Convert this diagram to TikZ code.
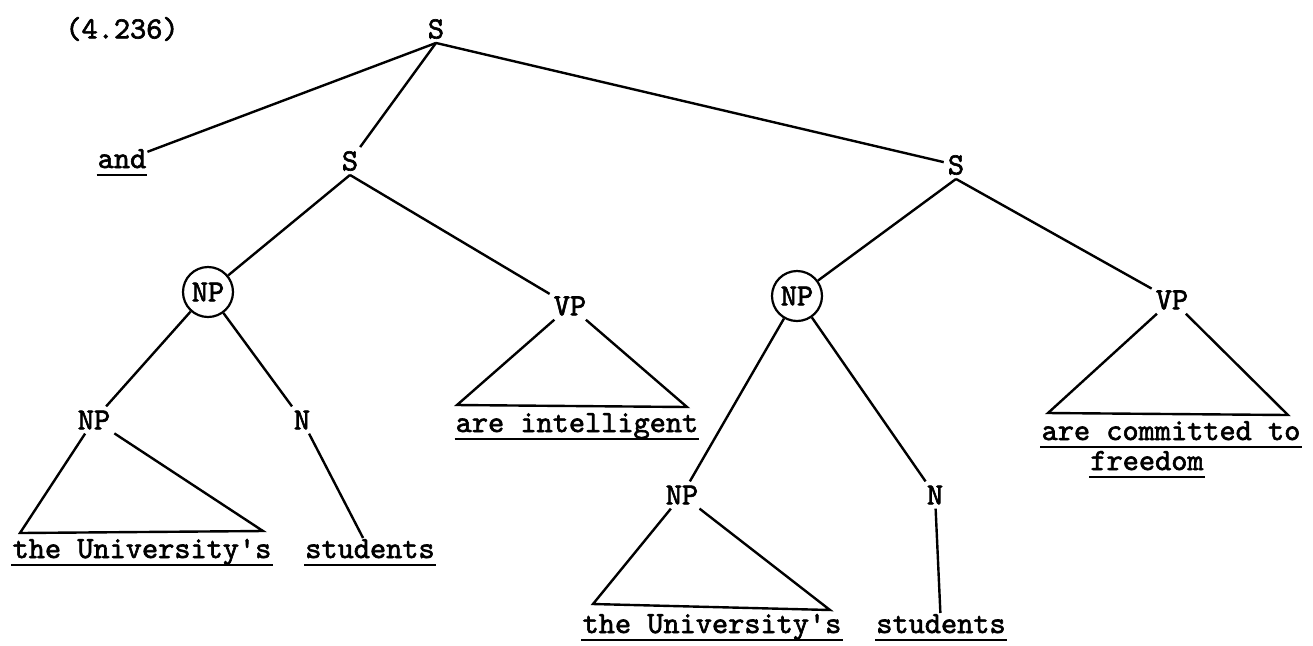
\documentclass[tikz,border=0pt]{standalone}
\usepackage{fontspec}
\newfontfamily\typew{lmmono10-regular.otf}[FakeBold=2]
\begin{document}
\begin{tikzpicture}[x=0.5pt,y=-0.5pt,line width=1.2pt,
  every node/.style={font=\fontsize{15.4}{17}\typew},
  cat/.style={inner sep=1.5pt},
  circ/.style={circle,draw,line width=1.1pt,inner sep=0pt,minimum size=25pt},
  word/.style={inner sep=0pt,anchor=base,text depth=2.8pt}]
\useasboundingbox (0,0) rectangle (1313,645);
\node (num) at (122,29) {(4.236)};
% categories
\node[cat] (S0) at (436,29) {S};
\node[cat] (S1) at (350,161) {S};
\node[cat] (S2) at (956,165) {S};
\node[circ] (NP1) at (208,292) {NP};
\node[cat] (VP1) at (570,306) {VP};
\node[cat] (NP1a) at (94,420) {NP};
\node[cat] (N1) at (302,420) {N};
\node[circ] (NP2) at (797,296) {NP};
\node[cat] (VP2) at (1172,300) {VP};
\node[cat] (NP2a) at (682,495) {NP};
\node[cat] (N2) at (935,495) {N};
% words
\node[word] (and) at (122,168) {and};
\node[word] (t1) at (142,558) {the University's};
\node[word] (s1) at (370,558) {students};
\node[word] (vp1) at (577,432) {are intelligent};
\node[word] (t2) at (712,633) {the University's};
\node[word] (s2) at (941,633) {students};
\node[word] (vp2a) at (1171,440) {are committed to};
\node[word] (vp2b) at (1147,470) {freedom};
\foreach \w in {and,t1,s1,vp1,t2,s2,vp2a,vp2b}
  \draw[line width=1.1pt] (\w.south west) -- (\w.south east);
% triangle corners
\coordinate (tri1l) at (20,533);
\coordinate (tri1r) at (263,531);
\coordinate (tri2l) at (457,405);
\coordinate (tri2r) at (687,407);
\coordinate (tri3l) at (593,604);
\coordinate (tri3r) at (830,610);
\coordinate (tri4l) at (1048,413);
\coordinate (tri4r) at (1288,415);
% branches
\draw (S0.south) -- (and);
\draw (S0.south) -- (S1);
\draw (S0.south) -- (S2);
\draw (S1.south) -- (NP1);
\draw (S1.south) -- (VP1);
\draw (NP1) -- (NP1a);
\draw (NP1) -- (N1);
\draw (N1) -- (s1);
\draw (NP1a) -- (tri1l) -- (tri1r) -- (NP1a);
\draw (VP1) -- (tri2l) -- (tri2r) -- (VP1);
\draw (S2.south) -- (NP2);
\draw (S2.south) -- (VP2);
\draw (NP2) -- (NP2a);
\draw (NP2) -- (N2);
\draw (N2) -- (s2);
\draw (NP2a) -- (tri3l) -- (tri3r) -- (NP2a);
\draw (VP2) -- (tri4l) -- (tri4r) -- (VP2);
\end{tikzpicture}
\end{document}
